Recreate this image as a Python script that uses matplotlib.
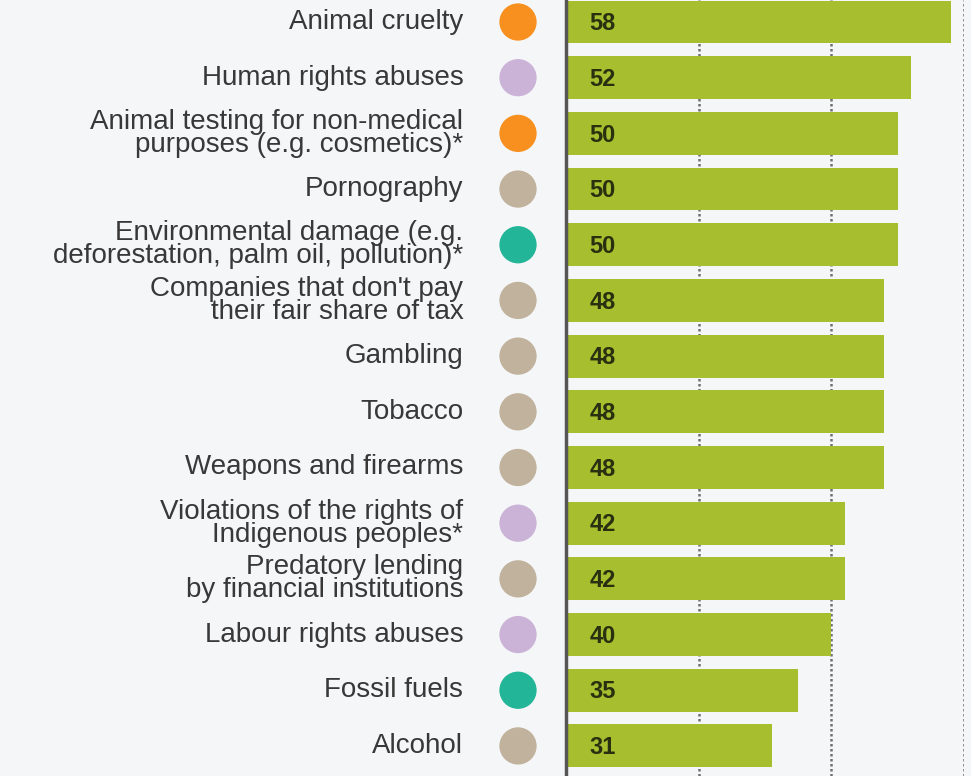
import matplotlib

matplotlib.use("Agg")
import matplotlib.pyplot as plt
import matplotlib.transforms as mtransforms

CATEGORIES = [
    "Animal cruelty",
    "Human rights abuses",
    "Animal testing for non-medical\npurposes (e.g. cosmetics)*",
    "Pornography",
    "Environmental damage (e.g.\ndeforestation, palm oil, pollution)*",
    "Companies that don't pay\ntheir fair share of tax",
    "Gambling",
    "Tobacco",
    "Weapons and firearms",
    "Violations of the rights of\nIndigenous peoples*",
    "Predatory lending\nby financial institutions",
    "Labour rights abuses",
    "Fossil fuels",
    "Alcohol",
]
VALUES = [58, 52, 50, 50, 50, 48, 48, 48, 48, 42, 42, 40, 35, 31]
GROUPS = ["animal", "rights", "animal", "other", "env", "other", "other",
          "other", "other", "rights", "other", "rights", "env", "other"]

GROUP_COLORS = {
    "animal": "#f7901e",
    "rights": "#cbb3d8",
    "other": "#c0b29c",
    "env": "#22b597",
}
BAR_COLOR = "#a7be2f"
BG = "#f5f6f8"

fig = plt.figure(figsize=(9.71, 7.76), dpi=100, facecolor=BG)
ax = fig.add_axes([566 / 971, 0.0, (964 - 566) / 971, 1.0], facecolor=BG)

y = list(range(len(CATEGORIES)))
ax.barh(y, VALUES, height=0.77, color=BAR_COLOR, zorder=2)

ax.set_xlim(0, 60)
ax.set_ylim(13.54, -0.395)

for gx in [20, 40, 60]:
    ax.axvline(gx, color="#707070", linestyle=(0, (1, 1)), linewidth=1.8, zorder=1)

for s in ["top", "right", "bottom"]:
    ax.spines[s].set_visible(False)
ax.spines["left"].set_color("#555555")
ax.spines["left"].set_linewidth(2.5)
ax.spines["left"].set_zorder(3)
ax.set_xticks([])
ax.set_yticks([])

for yi, v in zip(y, VALUES):
    ax.text(3.5, yi + 0.03, str(v), va="center", ha="left", fontsize=17,
            fontweight="bold", color="#283010", family="Liberation Sans", zorder=4)

trans = mtransforms.blended_transform_factory(ax.transAxes, ax.transData)
ax.scatter([-0.1206] * len(y), y, s=720,
           c=[GROUP_COLORS[g] for g in GROUPS], transform=trans,
           clip_on=False, linewidths=0, zorder=4)

for yi, lab in zip(y, CATEGORIES):
    ax.text(-0.258, yi, lab, transform=trans, ha="right", va="center",
            fontsize=20, color="#383838", family="Liberation Sans",
            linespacing=0.84, multialignment="right")

fig.savefig("out.png", dpi=100, facecolor=BG)
